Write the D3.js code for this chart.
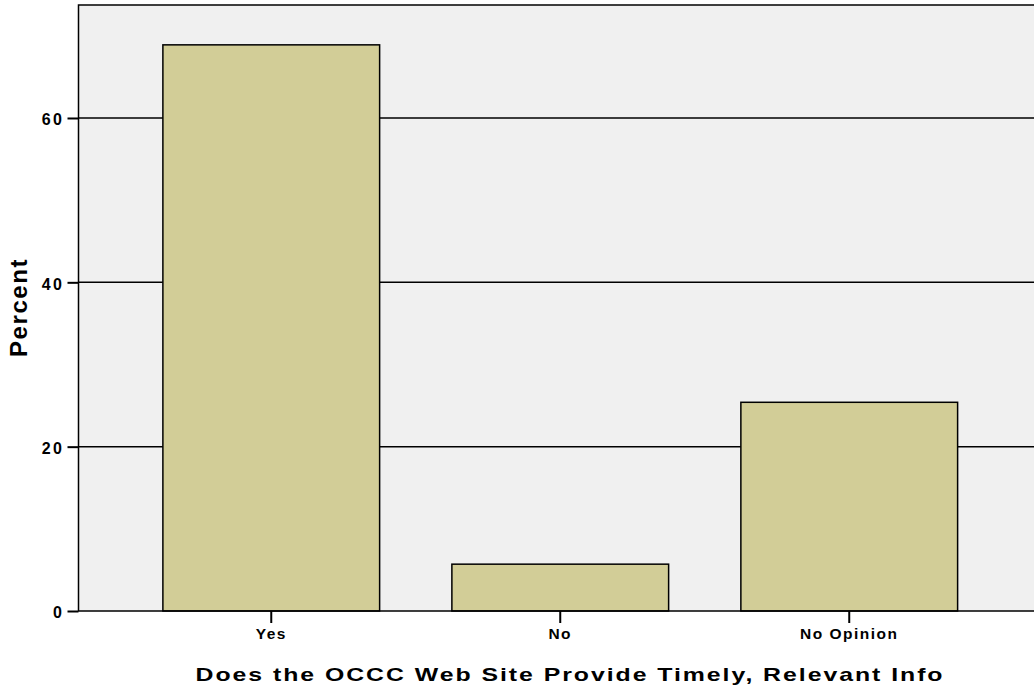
<!DOCTYPE html>
<html>
<head>
<meta charset="utf-8">
<script src="https://cdn.jsdelivr.net/npm/d3@7"></script>
<style>
  body { margin: 0; background: #fff; }
  text { font-family: 'Liberation Sans', Arial, sans-serif; font-weight: bold; fill: #000; }
</style>
</head>
<body>
<svg id="chart" width="1034" height="696"></svg>
<script>
const categories = ['Yes', 'No', 'No Opinion']
const percents = [68.9, 5.7, 25.4]
const yTicks = [0, 20, 40, 60]

const svg = d3.select('#chart')
const plotL = 78.5, plotT = 5, plotR = 1042, plotB = 611
const font = "'Liberation Sans', Arial, sans-serif"

const x = d3.scaleBand().domain(categories)
  .range([plotL, plotR]).paddingInner(0.25).paddingOuter(0.292)
const y = d3.scaleLinear().domain([0, 73.75]).range([plotB, plotT])

// plot background
svg.append('rect')
  .attr('x', plotL).attr('y', plotT)
  .attr('width', plotR - plotL).attr('height', plotB - plotT)
  .style('fill', '#f0f0f0')

// grid lines
svg.append('g').selectAll('line').data(yTicks.filter(d => d > 0)).enter()
  .append('line')
  .attr('x1', plotL).attr('x2', plotR)
  .attr('y1', d => y(d)).attr('y2', d => y(d))
  .style('stroke', '#000').style('stroke-width', 1.5)

// bars
svg.append('g').selectAll('rect').data(percents).enter()
  .append('rect')
  .attr('x', (_, i) => x(categories[i]))
  .attr('y', d => y(d))
  .attr('width', x.bandwidth())
  .attr('height', d => plotB - y(d))
  .style('fill', '#d2cd97')
  .style('stroke', '#000').style('stroke-width', 1.5)

// frame
svg.append('path')
  .attr('d', `M${plotR},${plotT}H${plotL}V${plotB}H${plotR}`)
  .style('fill', 'none').style('stroke', '#000').style('stroke-width', 1.5)

// y axis
const yAxis = svg.append('g').attr('transform', `translate(${plotL},0)`)
  .call(d3.axisLeft(y).tickValues(yTicks).tickSize(11).tickPadding(3))
yAxis.select('.domain').remove()
yAxis.selectAll('line').style('stroke', '#000').style('stroke-width', 2)
yAxis.selectAll('text')
  .attr('dy', '0.42em')
  .style('font-size', '16px').style('letter-spacing', '2.5px')
  .style('font-family', font).style('font-weight', 'bold')

// x axis
const xAxis = svg.append('g').attr('transform', `translate(0,${plotB})`)
  .call(d3.axisBottom(x).tickSize(12).tickPadding(5))
xAxis.select('.domain').remove()
xAxis.selectAll('line').style('stroke', '#000').style('stroke-width', 2)
xAxis.selectAll('text')
  .style('font-size', '15.5px').style('letter-spacing', '1.5px')
  .style('font-family', font).style('font-weight', 'bold')

// titles (glyphs are drawn wide in the original, so stretch them)
svg.append('text')
  .attr('x', 570).attr('y', 681)
  .attr('text-anchor', 'middle')
  .attr('textLength', 749).attr('lengthAdjust', 'spacingAndGlyphs')
  .style('font-size', '19px').style('letter-spacing', '1.5px')
  .text('Does the OCCC Web Site Provide Timely, Relevant Info')

svg.append('text')
  .attr('transform', 'translate(27,307.5) rotate(-90)')
  .attr('text-anchor', 'middle')
  .attr('textLength', 99).attr('lengthAdjust', 'spacingAndGlyphs')
  .style('font-size', '23px').style('letter-spacing', '1.5px')
  .text('Percent')
</script>
</body>
</html>
